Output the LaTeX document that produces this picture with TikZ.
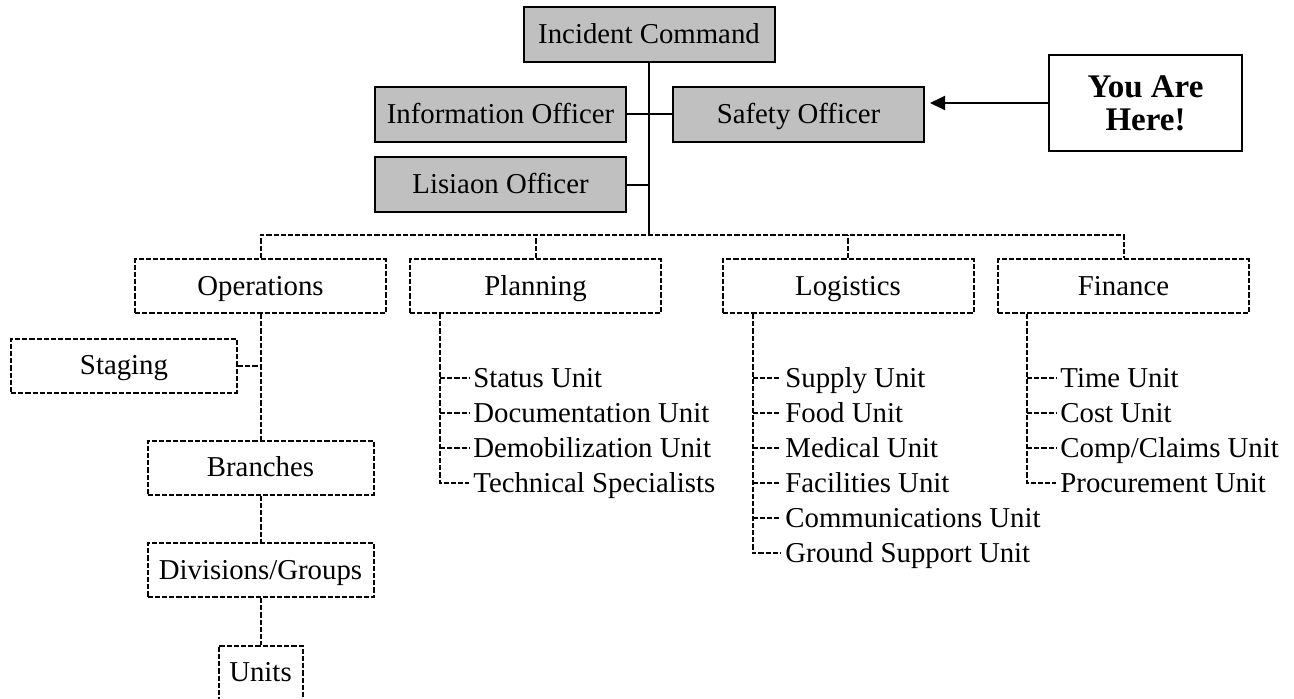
\documentclass[tikz,border=0pt]{standalone}
\usepackage{fontspec}
\setmainfont{Liberation Serif}
\usetikzlibrary{arrows.meta}
\definecolor{boxgray}{RGB}{192,192,192}
\begin{document}
\begin{tikzpicture}[>={Triangle[length=7.5pt,width=7pt]},x=0.5pt,y=0.5pt,
	every node/.style={font=\fontsize{14.4}{17}\selectfont},
	dashline/.style={line width=1pt,dash pattern=on 2.6pt off 1pt},
	label text/.style={text height=11pt,text depth=2pt},
	staff/.style={draw,line width=1pt,fill=boxgray,label text,minimum width=125.5pt,minimum height=27.5pt,inner sep=0pt},
	sect/.style={draw,dashline,label text,minimum width=125.5pt,minimum height=27pt,inner sep=0pt},
	unit/.style={anchor=west,label text,inner xsep=2pt,inner ysep=0pt}]
		\useasboundingbox (0,0) rectangle (1294,-698);
		\node[staff] (cmd) at (649,-34.5) {Incident Command};
		\node[staff] (info) at (500.5,-114) {Information Officer};
		\node[staff] (safe) at (798.5,-114) {Safety Officer};
		\node[staff] (liai) at (500.5,-184.5) {Lisiaon Officer};
		\node[draw,line width=1pt,minimum width=96.5pt,minimum height=48pt,align=center,font=\bfseries\fontsize{16.5}{16.5}\selectfont] (here) at (1145.5,-103) {You Are\\Here!};
		\coordinate (bus) at (649,-235);
		\draw[line width=1pt] (cmd.south) -- (bus);
		\draw[line width=1pt] (info.east) -- (safe.west);
		\draw[line width=1pt] (liai.east) -- (liai.east -| cmd.south);
		\draw[line width=1pt,->,shorten >=2.5pt] (here.west) -- (here.west -| safe.east);
		
		\node[sect] (ops) at (260.5,-286) {Operations};
		\node[sect] (plan) at (535.5,-286) {Planning};
		\node[sect] (log) at (848,-286) {Logistics};
		\node[sect] (fin) at (1123.5,-286) {Finance};
		\draw[dashline] (ops.north) |- (bus) -| (fin.north);
		\draw[dashline] (plan.north) -- (plan.north |- bus);
		\draw[dashline] (log.north) -- (log.north |- bus);
		
		\node[sect,minimum width=113pt] (stag) at (124,-365.5) {Staging};
		\node[sect,minimum width=113pt] (bran) at (260.5,-467.5) {Branches};
		\node[sect,minimum width=113pt] (divs) at (260.5,-570) {Divisions/Groups};
		\node[sect,minimum width=42pt] (unit) at (260.5,-672.5) {Units};
		\draw[dashline] (ops.south) -- (bran.north);
		\draw[dashline] (stag.east) -- (stag.east -| ops.south);
		\draw[dashline] (bran.south) -- (divs.north);
		\draw[dashline] (divs.south) -- (unit.north);
		
		\coordinate (ptree) at ([xshift=15.5pt]plan.south west);
		\coordinate (ltree) at ([xshift=15.5pt]log.south west);
		\coordinate (ftree) at ([xshift=15pt]fin.south west);
		\foreach \t [count=\i] in {Status Unit,Documentation Unit,Demobilization Unit,Technical Specialists}
			\node[unit] (p\i) at (469,-343-35*\i) {\t};
		\foreach \t [count=\i] in {Supply Unit,Food Unit,Medical Unit,Facilities Unit,Communications Unit,Ground Support Unit}
			\node[unit] (l\i) at (781,-343-35*\i) {\t};
		\foreach \t [count=\i] in {Time Unit,Cost Unit,Comp/Claims Unit,Procurement Unit}
			\node[unit] (f\i) at (1056,-343-35*\i) {\t};
		\draw[dashline] (ptree) |- (p4.west);
		\draw[dashline] (ltree) |- (l6.west);
		\draw[dashline] (ftree) |- (f4.west);
		\foreach \i in {1,2,3} \draw[dashline] (ptree |- p\i.west) -- (p\i.west);
		\foreach \i in {1,...,5} \draw[dashline] (ltree |- l\i.west) -- (l\i.west);
		\foreach \i in {1,2,3} \draw[dashline] (ftree |- f\i.west) -- (f\i.west);
		
		\end{tikzpicture}
\end{document}
